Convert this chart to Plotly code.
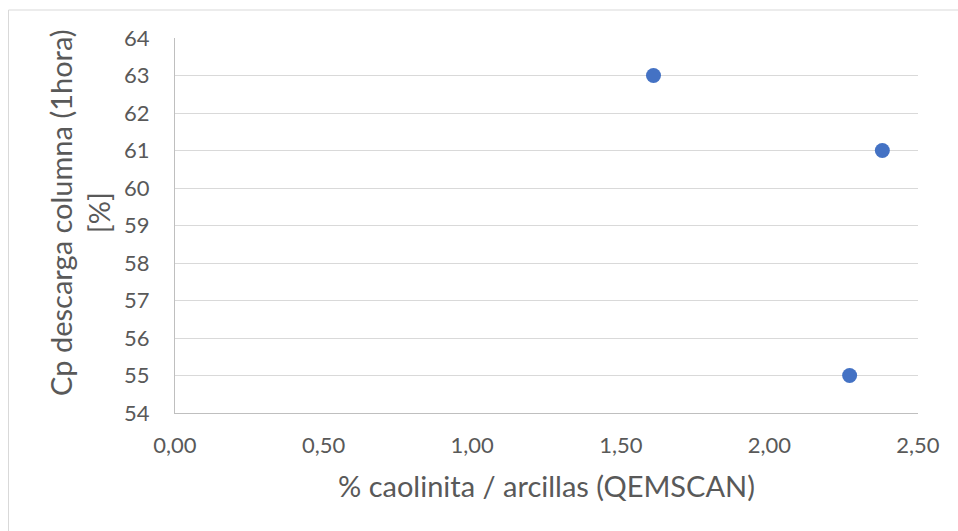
import plotly.graph_objects as go

# Clay ratio vs. discharge solids concentration
caolinita_ratio = [1.61, 2.38, 2.27]
cp_descarga = [63, 61, 55]

x_ticks = [0, 0.5, 1.0, 1.5, 2.0, 2.5]
x_tick_labels = ["0,00", "0,50", "1,00", "1,50", "2,00", "2,50"]
y_ticks = list(range(54, 65))

FONT = "Lato, 'Open Sans', sans-serif"
GRID = "#d9d9d9"
AXIS = "#bfbfbf"
TXT = "#595959"

fig = go.Figure(
    go.Scatter(
        x=caolinita_ratio,
        y=cp_descarga,
        mode="markers",
        marker=dict(size=15, color="#4472C4"),
        showlegend=False,
    )
)

# plot area: x 175..918 px, y 38..413 px
PW, PH = 743, 375
fig.update_layout(
    width=958,
    height=531,
    margin=dict(l=175, r=40, t=38, b=118),
    paper_bgcolor="white",
    plot_bgcolor="white",
    font=dict(family=FONT, color=TXT, size=22),
    shapes=[
        dict(type="rect", xref="paper", yref="paper",
             x0=-(175 - 8.5) / PW, x1=1 + 60 / PW,
             y0=-(600 - 413) / PH, y1=1 + 28 / PH,
             line=dict(color=GRID, width=1), fillcolor="rgba(0,0,0,0)", layer="below")
    ],
    annotations=[
        dict(text="Cp descarga columna (1hora)<br>[%]", textangle=-90,
             xref="paper", yref="paper", x=(79 - 175) / PW, y=(413 - 213) / PH,
             xanchor="center", yanchor="middle", showarrow=False,
             font=dict(size=29, color=TXT, family=FONT))
    ],
)

fig.update_xaxes(
    range=[0, 2.5],
    tickvals=x_ticks,
    ticktext=x_tick_labels,
    showgrid=False,
    zeroline=False,
    showline=True,
    linecolor=AXIS,
    linewidth=1,
    ticks="outside",
    ticklen=13,
    tickcolor="rgba(0,0,0,0)",
    tickfont=dict(size=22, color=TXT),
    title=dict(text="% caolinita / arcillas (QEMSCAN)", font=dict(size=29, color=TXT), standoff=19),
)

fig.update_yaxes(
    range=[54, 64],
    tickvals=y_ticks,
    showgrid=True,
    gridcolor=GRID,
    gridwidth=1,
    zeroline=False,
    showline=True,
    linecolor=AXIS,
    linewidth=1,
    ticks="outside",
    ticklen=20,
    tickcolor="rgba(0,0,0,0)",
    tickfont=dict(size=22, color=TXT),
)

fig.write_html("out.html")
